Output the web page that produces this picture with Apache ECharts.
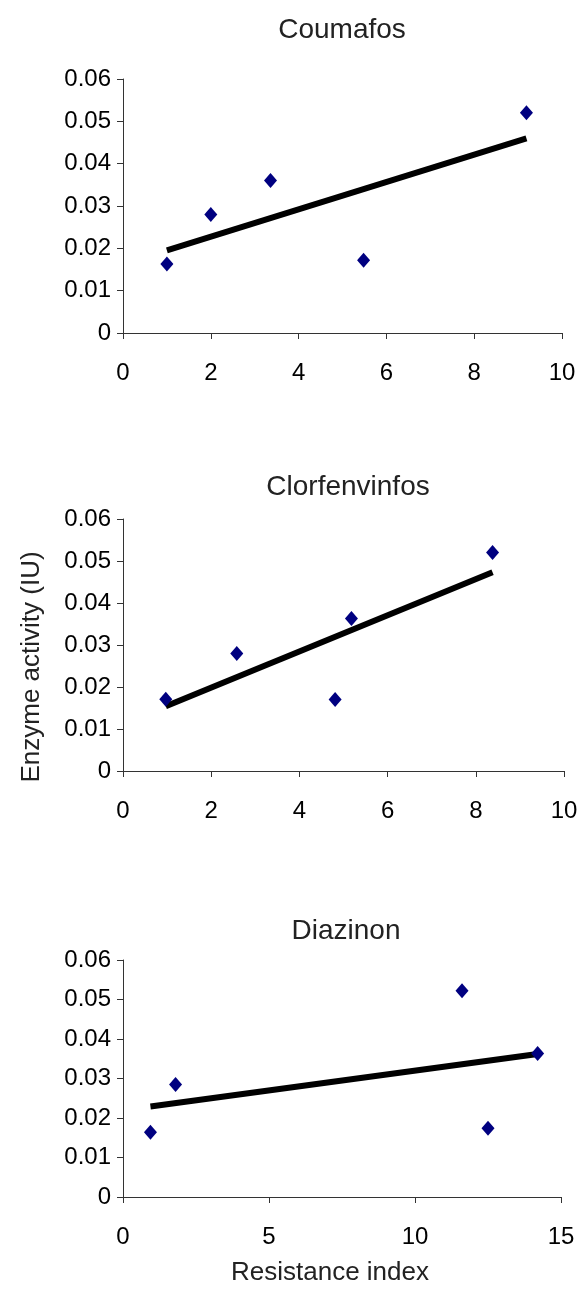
<!DOCTYPE html>
<html>
<head>
<meta charset="utf-8">
<script src="https://cdn.jsdelivr.net/npm/echarts@6/dist/echarts.min.js"></script>
<style>
html,body{margin:0;padding:0;background:#fff;}
#c{width:585px;height:1298px;}
</style>
</head>
<body>
<div id="c"></div>
<script>
// ---- data ----
const titles = ['Coumafos', 'Clorfenvinfos', 'Diazinon'];
const coumafosX = [1.0, 2.0, 3.36, 5.48, 9.19];
const coumafosY = [0.0163, 0.0280, 0.0360, 0.0172, 0.0520];
const coumafosTrend = [[1.0, 0.0195], [9.19, 0.0460]];
const clorfenX = [0.97, 2.58, 4.81, 5.18, 8.38];
const clorfenY = [0.0171, 0.0280, 0.0170, 0.0363, 0.0520];
const clorfenTrend = [[0.97, 0.0154], [8.38, 0.0473]];
const diazinonX = [0.94, 1.8, 11.61, 12.5, 14.2];
const diazinonY = [0.0164, 0.0285, 0.0522, 0.0174, 0.0363];
const diazinonTrend = [[0.94, 0.0229], [14.2, 0.0362]];
const xMax = [10, 10, 15];
const xStep = [2, 2, 5];
const yAxisName = 'Enzyme activity (IU)';
const xAxisName = 'Resistance index';

const FONT = "'Liberation Sans', Arial, sans-serif";
const xs = [coumafosX, clorfenX, diazinonX];
const ys = [coumafosY, clorfenY, diazinonY];
const trends = [coumafosTrend, clorfenTrend, diazinonTrend];

const grids = [
  {left: 123, top: 79, width: 439, height: 254},
  {left: 123, top: 519, width: 441, height: 252},
  {left: 123, top: 960, width: 438, height: 237}
];
const titlePos = [[342, 30], [348, 487], [346, 931]];

const axisLineStyle = {color: '#333', width: 1};
const option = {
  animation: false,
  backgroundColor: '#fff',
  grid: grids.map(g => Object.assign({containLabel: false}, g)),
  xAxis: grids.map((g, i) => ({
    type: 'value', gridIndex: i, min: 0, max: xMax[i], interval: xStep[i],
    axisLine: {show: true, onZero: false, lineStyle: axisLineStyle},
    axisTick: {show: true, inside: false, length: 6, lineStyle: axisLineStyle},
    splitLine: {show: false},
    axisLabel: {color: '#000', fontSize: 24, fontFamily: FONT, margin: 28}
  })),
  yAxis: grids.map((g, i) => ({
    type: 'value', gridIndex: i, min: 0, max: 0.06, interval: 0.01,
    axisLine: {show: true, onZero: false, lineStyle: axisLineStyle},
    axisTick: {show: true, inside: false, length: 6, lineStyle: axisLineStyle},
    splitLine: {show: false},
    axisLabel: {color: '#000', fontSize: 24, fontFamily: FONT, margin: 12,
      formatter: v => (Math.round(v * 100) / 100).toString()}
  })),
  series: [],
  graphic: []
};

for (let i = 0; i < 3; i++) {
  option.series.push({
    type: 'line', xAxisIndex: i, yAxisIndex: i,
    data: trends[i], symbol: 'none', z: 2,
    lineStyle: {color: '#000', width: 6, cap: 'butt'}
  });
  option.series.push({
    type: 'scatter', xAxisIndex: i, yAxisIndex: i,
    data: xs[i].map((x, k) => [x, ys[i][k]]),
    symbol: 'diamond', symbolSize: [13, 15], z: 3,
    itemStyle: {color: '#000080', opacity: 1}
  });
  option.graphic.push({
    type: 'text', x: titlePos[i][0], y: titlePos[i][1],
    style: {text: titles[i], font: '28px ' + FONT, fill: '#222',
      textAlign: 'center', textVerticalAlign: 'middle'}
  });
}
option.graphic.push({
  type: 'text', x: 32, y: 667, rotation: Math.PI / 2,
  style: {text: yAxisName, font: '26px ' + FONT, fill: '#222',
    textAlign: 'center', textVerticalAlign: 'middle'}
});
option.graphic.push({
  type: 'text', x: 330, y: 1273,
  style: {text: xAxisName, font: '26px ' + FONT, fill: '#222',
    textAlign: 'center', textVerticalAlign: 'middle'}
});

const chart = echarts.init(document.getElementById('c'), null, {renderer: 'canvas'});
chart.setOption(option);
</script>
</body>
</html>
